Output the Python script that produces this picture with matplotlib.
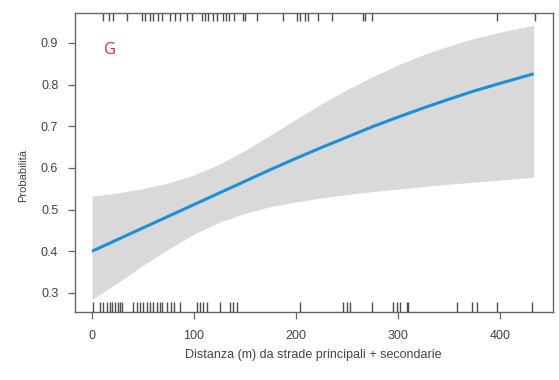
import matplotlib
matplotlib.use("Agg")
import matplotlib.pyplot as plt
import matplotlib.transforms as mtransforms

# Data
dist = [0, 25, 50, 75, 100, 125, 150, 175, 200, 225, 250, 275, 300, 325, 350, 375, 400, 433]
prob = [0.400, 0.428, 0.456, 0.484, 0.512, 0.540, 0.568, 0.596, 0.623, 0.649, 0.674, 0.699,
        0.722, 0.744, 0.765, 0.785, 0.803, 0.826]
upper = [0.532, 0.540, 0.550, 0.564, 0.583, 0.609, 0.642, 0.679, 0.717, 0.754, 0.788, 0.819,
         0.847, 0.872, 0.893, 0.911, 0.926, 0.943]
lower = [0.284, 0.324, 0.366, 0.405, 0.441, 0.470, 0.491, 0.507, 0.518, 0.528, 0.536, 0.543,
         0.549, 0.555, 0.561, 0.566, 0.571, 0.578]

rug_top = [11, 17, 21, 34, 49, 52, 57, 60, 65, 69, 76, 81, 86, 93, 98, 108, 111, 114, 119, 123,
           128, 131, 134, 139, 148, 150, 162, 187, 201, 204, 209, 212, 222, 235, 266, 268, 275,
           397, 434]
rug_bottom = [1, 8, 11, 15, 18, 20, 23, 25, 27, 29, 40, 44, 47, 50, 54, 57, 60, 64, 67, 69, 74,
              77, 80, 86, 103, 106, 109, 113, 125, 135, 138, 142, 204, 246, 250, 253, 275, 295,
              299, 302, 309, 310, 358, 373, 377, 397, 431]

xticks = [0, 100, 200, 300, 400]
yticks = [0.3, 0.4, 0.5, 0.6, 0.7, 0.8, 0.9]

plt.rcParams['font.family'] = ['Liberation Sans', 'DejaVu Sans']

fig = plt.figure(figsize=(5.59, 3.80), dpi=100)
ax = fig.add_axes([75/559, 1-312/380, (553-75)/559, (312-13)/380])

ax.fill_between(dist, lower, upper, color='#d9d9d9', linewidth=0)
ax.plot(dist, prob, color='#1b8fd8', linewidth=2.2, solid_capstyle='butt')

trans = mtransforms.blended_transform_factory(ax.transData, ax.transAxes)
ax.vlines(rug_top, 1 - 0.027, 1.0, transform=trans, color='#4d4d4d', linewidth=1.0)
ax.vlines(rug_bottom, 0.0, 0.032, transform=trans, color='#4d4d4d', linewidth=1.0)

ax.set_xlim(-16.7, 452)
ax.set_ylim(0.254, 0.972)
ax.set_xticks(xticks)
ax.set_xticklabels([str(t) for t in xticks])
ax.set_yticks(yticks)
ax.set_yticklabels([f"{t:.1f}" for t in yticks])

for s in ax.spines.values():
    s.set_color('#666666')
    s.set_linewidth(1.0)
ax.tick_params(axis='both', length=5, width=0.9, color='#666666', labelsize=9, labelcolor='#444444')
ax.tick_params(axis='x', pad=8)
ax.tick_params(axis='y', pad=7)

ax.text(0.06, 0.875, 'G', transform=ax.transAxes, color='#e0303c', fontsize=12,
        ha='left', va='center', family=['Open Sans', 'DejaVu Sans'])

fig.text(23/559, 1-175/380, 'Probabilità', rotation=90, ha='center', va='center',
         fontsize=8, color='#444444')
fig.text(313/559, 1-355/380, 'Distanza (m) da strade principali + secondarie', ha='center',
         va='center', fontsize=9, color='#444444')

fig.savefig('out.png', dpi=100)
